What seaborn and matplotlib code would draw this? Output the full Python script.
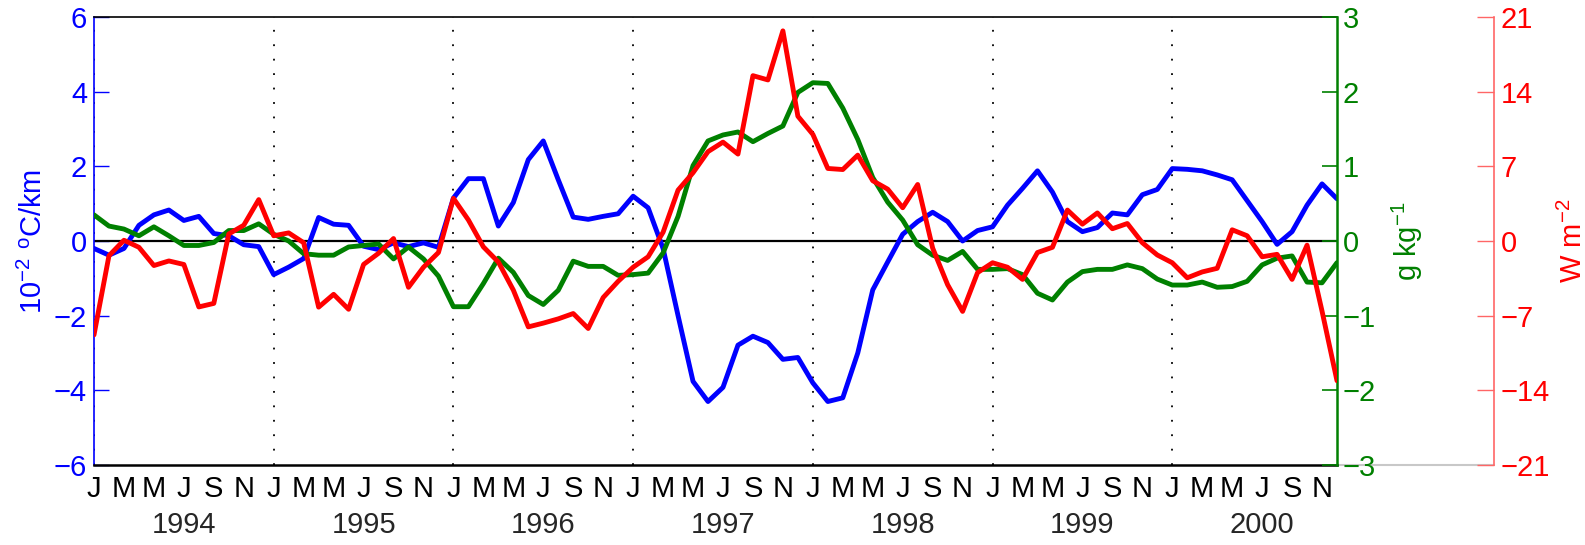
import numpy as np
import pandas as pd
import matplotlib
matplotlib.use('Agg')
import matplotlib.pyplot as plt
import matplotlib.transforms as mtransforms
from matplotlib.lines import Line2D
import seaborn as sns

# monthly anomalies, Jan 1994 .. Dec 2000
months = np.arange(84)
month_letters = ['J', 'M', 'M', 'J', 'S', 'N']
years = ['1994', '1995', '1996', '1997', '1998', '1999', '2000']

lapse = [-0.2, -0.38, -0.2, 0.42, 0.7, 0.83, 0.55, 0.66, 0.2, 0.14, -0.1, -0.15,
         -0.9, -0.7, -0.47, 0.63, 0.45, 0.42, -0.14, -0.23, -0.05, -0.15, -0.05, -0.17,
         1.15, 1.67, 1.67, 0.4, 1.03, 2.18, 2.68, 1.64, 0.64, 0.58, 0.66, 0.73,
         1.2, 0.89, -0.2, -2.0, -3.76, -4.3, -3.92, -2.79, -2.55, -2.72, -3.17, -3.12,
         -3.8, -4.3, -4.2, -3.0, -1.31, -0.56, 0.18, 0.52, 0.77, 0.52, 0.0, 0.28,
         0.38, 0.96, 1.41, 1.88, 1.31, 0.52, 0.25, 0.36, 0.75, 0.7, 1.24, 1.38,
         1.94, 1.92, 1.88, 1.77, 1.64, 1.08, 0.52, -0.09, 0.25, 0.96, 1.53, 1.13]

humidity = [0.35, 0.2, 0.16, 0.07, 0.19, 0.07, -0.06, -0.06, -0.02, 0.14, 0.14, 0.23,
            0.09, 0.0, -0.17, -0.19, -0.19, -0.08, -0.06, -0.04, -0.24, -0.08, -0.24, -0.47,
            -0.88, -0.88, -0.57, -0.23, -0.42, -0.73, -0.85, -0.66, -0.27, -0.34, -0.34, -0.46,
            -0.45, -0.43, -0.16, 0.33, 1.01, 1.34, 1.42, 1.46, 1.33, 1.44, 1.54, 1.99,
            2.12, 2.11, 1.78, 1.36, 0.85, 0.52, 0.28, -0.05, -0.19, -0.26, -0.14, -0.38,
            -0.38, -0.37, -0.45, -0.7, -0.79, -0.55, -0.41, -0.38, -0.38, -0.32, -0.37, -0.51,
            -0.59, -0.59, -0.55, -0.62, -0.61, -0.54, -0.32, -0.23, -0.2, -0.55, -0.56, -0.29]

flux = [-8.8, -1.38, 0.07, -0.59, -2.3, -1.87, -2.2, -6.18, -5.85, 0.66, 1.48, 3.88,
        0.49, 0.76, -0.16, -6.2, -5.0, -6.4, -2.2, -1.15, 0.23, -4.34, -2.46, -1.08,
        4.0, 1.97, -0.55, -1.97, -4.6, -8.05, -7.7, -7.3, -6.8, -8.2, -5.3, -3.78,
        -2.46, -1.48, 0.82, 4.77, 6.4, 8.38, 9.27, 8.15, 15.5, 15.1, 19.7, 11.7,
        10.0, 6.8, 6.7, 8.05, 5.65, 4.86, 3.12, 5.3, -0.66, -4.1, -6.6, -2.96,
        -2.04, -2.46, -3.6, -1.08, -0.59, 2.9, 1.58, 2.63, 1.15, 1.64, -0.16, -1.31,
        -2.04, -3.45, -2.9, -2.56, 1.05, 0.49, -1.48, -1.25, -3.6, -0.39, -6.57, -13.1]

df = pd.DataFrame({'month': months, 'lapse': lapse, 'humidity': humidity, 'flux': flux})

sns.set_style('white')
plt.rcParams['font.family'] = ['Liberation Sans', 'DejaVu Sans']
plt.rcParams['mathtext.fontset'] = 'custom'
plt.rcParams['mathtext.rm'] = 'Liberation Sans'
plt.rcParams['mathtext.it'] = 'Liberation Sans'

fs = 21
fig = plt.figure(figsize=(15.85, 5.45), dpi=100)
ax1 = fig.add_axes([94 / 1585, 80 / 545, 1243 / 1585, 448 / 545])
ax2 = ax1.twinx()
ax3 = ax1.twinx()

# reference lines
for k in range(0, 84, 12):
    ax1.axvline(k, color='k', ls=(0, (1, 7)), lw=1.3, zorder=1)
ax1.axhline(0, color='k', lw=1.6, zorder=2)

sns.lineplot(data=df, x='month', y='lapse', ax=ax1, color='#0000ff', lw=3.5, zorder=3)
sns.lineplot(data=df, x='month', y='humidity', ax=ax2, color='#008000', lw=3.5)
sns.lineplot(data=df, x='month', y='flux', ax=ax3, color='#ff0000', lw=3.5)

ax1.set_xlim(0, 83)
ax1.set_ylim(-6, 6)
ax2.set_ylim(-3, 3)
ax3.set_ylim(-21, 21)

ax1.set_xticks(months[::2])
ax1.set_xticklabels(month_letters * 7, fontsize=fs)
ax1.set_yticks(np.arange(-6, 7, 2))
ax2.set_yticks(np.arange(-3, 4, 1))
ax3.set_yticks(np.arange(-21, 22, 7))

ax1.tick_params(axis='x', direction='in', length=11, width=1.2, pad=7, colors='k', labelsize=fs)
ax1.tick_params(axis='y', direction='in', length=11, width=1, colors='#0000ff', labelsize=fs, pad=5)
ax2.tick_params(axis='y', direction='in', length=11, width=1.2, colors='#008000', labelsize=fs, pad=4)
ax3.tick_params(axis='y', direction='in', length=12, width=1, color='#ff6666',
                labelcolor='#ff0000', labelsize=fs, pad=5)

for ax in (ax1, ax2, ax3):
    ax.set_xlabel('')
    for s in ax.spines.values():
        s.set_visible(False)

ax1.spines['left'].set_visible(True)
ax1.spines['left'].set_color('#0000ff')
ax1.spines['left'].set_linewidth(1.2)
ax1.spines['top'].set_visible(True)
ax1.spines['top'].set_color('k')
ax1.spines['top'].set_linewidth(1.2)
ax1.spines['bottom'].set_visible(True)
ax1.spines['bottom'].set_color('k')
ax1.spines['bottom'].set_linewidth(1.8)
ax2.spines['right'].set_visible(True)
ax2.spines['right'].set_color('#008000')
ax2.spines['right'].set_linewidth(1.8)
ax3.spines['right'].set_visible(True)
ax3.spines['right'].set_position(('axes', 1.1263))
ax3.spines['right'].set_color('#ff6666')
ax3.spines['right'].set_linewidth(1.2)

ax1.add_line(Line2D([1, 1.1263], [0, 0], transform=ax1.transAxes, color='#c8c8c8',
                    lw=1.5, clip_on=False))

ax1.set_ylabel('10$^{-2}$ $^{\\rm o}$C/km', color='#0000ff', fontsize=fs, labelpad=4)
ax2.set_ylabel('g kg$^{-1}$', color='#008000', fontsize=fs, labelpad=10)
ax3.set_ylabel('W m$^{-2}$', color='#ff0000', fontsize=fs, labelpad=6)

trans = mtransforms.blended_transform_factory(ax1.transData, ax1.transAxes)
for k, yr in enumerate(years):
    ax1.text(12 * k + 6, -0.134, yr, transform=trans, ha='center', va='center', fontsize=fs)

fig.savefig('out.png', dpi=100)
